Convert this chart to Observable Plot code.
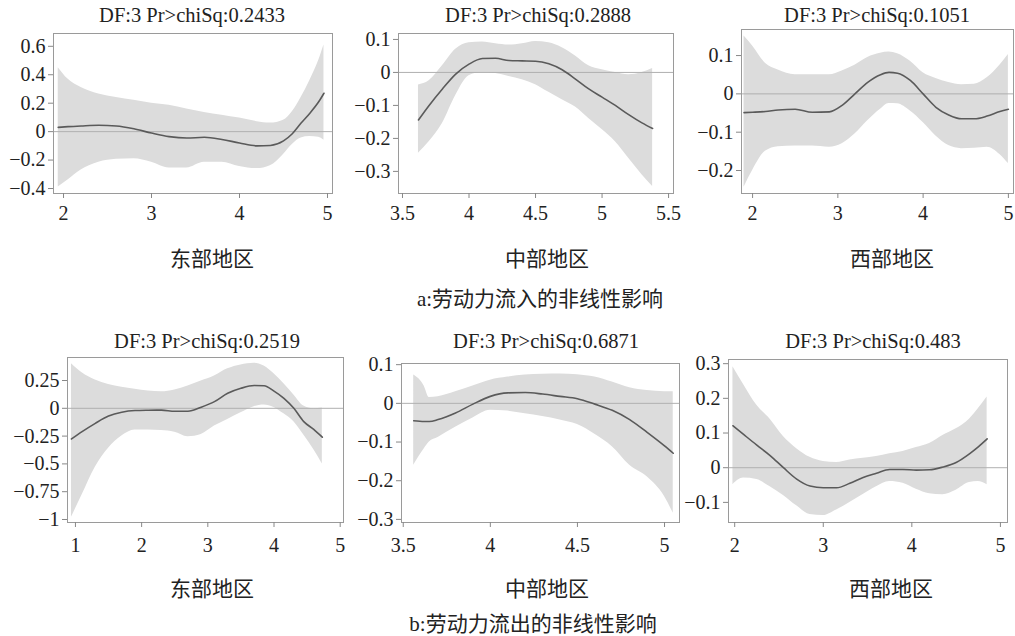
<!DOCTYPE html>
<html>
<head>
<meta charset="utf-8">
<script src="https://cdn.jsdelivr.net/npm/d3@7"></script>
<script src="https://cdn.jsdelivr.net/npm/@observablehq/plot@0.6"></script>
<style>
  body { margin: 0; background: #fff; }
  #wrap { position: relative; width: 1015px; height: 636px; overflow: hidden; background: #fff;
          font-family: 'Liberation Serif', 'Noto Sans CJK SC', serif; color: #222; }
  .abs { position: absolute; white-space: nowrap; transform: translate(-50%, -50%); }
  .ttl { font-size: 20.5px; }
  .reg { font-size: 21px; font-family: 'Noto Sans CJK SC', serif; }
  .sub { font-size: 21px; font-family: 'Liberation Serif', 'Noto Sans CJK SC', serif; }
</style>
</head>
<body>
<div id="wrap"></div>
<script>
// ---------- data ----------
const titles = ["DF:3 Pr>chiSq:0.2433", "DF:3 Pr>chiSq:0.2888", "DF:3 Pr>chiSq:0.1051",
                "DF:3 Pr>chiSq:0.2519", "DF:3 Pr>chiSq:0.6871", "DF:3 Pr>chiSq:0.483"];
const regions = ["东部地区", "中部地区", "西部地区", "东部地区", "中部地区", "西部地区"];
const subtitles = ["a:劳动力流入的非线性影响", "b:劳动力流出的非线性影响"];

// panel a1: 东部 inflow
const a1X  = [1.94, 2.05, 2.2, 2.4, 2.6, 2.8, 3.0, 3.2, 3.4, 3.6, 3.8, 4.0, 4.2, 4.35, 4.5, 4.6, 4.7, 4.8, 4.9, 4.96];
const a1Fit= [0.03, 0.035, 0.04, 0.045, 0.04, 0.02, -0.01, -0.035, -0.045, -0.04, -0.055, -0.08, -0.1, -0.097, -0.065, -0.015, 0.06, 0.13, 0.21, 0.27];
const a1Hi = [0.45, 0.37, 0.31, 0.265, 0.24, 0.22, 0.2, 0.185, 0.16, 0.135, 0.115, 0.095, 0.07, 0.06, 0.08, 0.14, 0.24, 0.36, 0.5, 0.61];
const a1Lo = [-0.39, -0.34, -0.27, -0.215, -0.195, -0.19, -0.215, -0.255, -0.255, -0.215, -0.215, -0.245, -0.26, -0.24, -0.16, -0.09, -0.045, -0.035, -0.04, -0.06];

// panel a2: 中部 inflow
const a2X  = [3.62, 3.7, 3.8, 3.9, 4.0, 4.1, 4.2, 4.3, 4.4, 4.5, 4.6, 4.7, 4.8, 4.9, 5.0, 5.1, 5.2, 5.3, 5.38];
const a2Fit= [-0.144, -0.1, -0.05, -0.005, 0.025, 0.042, 0.043, 0.036, 0.035, 0.034, 0.026, 0.008, -0.02, -0.05, -0.075, -0.1, -0.128, -0.153, -0.17];
const a2Hi = [-0.038, -0.025, 0.02, 0.07, 0.09, 0.092, 0.087, 0.083, 0.087, 0.094, 0.09, 0.075, 0.05, 0.02, 0.008, 0.0, -0.007, 0.0, 0.012];
const a2Lo = [-0.245, -0.21, -0.155, -0.07, -0.01, 0.0, -0.003, -0.012, -0.022, -0.037, -0.06, -0.083, -0.105, -0.14, -0.173, -0.21, -0.26, -0.31, -0.346];

// panel a3: 西部 inflow
const a3X  = [1.9, 2.0, 2.15, 2.3, 2.5, 2.7, 2.9, 3.05, 3.2, 3.35, 3.5, 3.6, 3.7, 3.85, 4.0, 4.15, 4.3, 4.45, 4.6, 4.75, 4.9, 5.0];
const a3Fit= [-0.049, -0.048, -0.046, -0.042, -0.04, -0.048, -0.047, -0.03, 0.0, 0.03, 0.05, 0.056, 0.054, 0.035, 0.0, -0.035, -0.055, -0.065, -0.065, -0.058, -0.046, -0.04];
const a3Hi = [0.151, 0.125, 0.08, 0.062, 0.05, 0.05, 0.05, 0.06, 0.075, 0.095, 0.106, 0.109, 0.105, 0.085, 0.055, 0.04, 0.03, 0.024, 0.025, 0.042, 0.075, 0.103];
const a3Lo = [-0.244, -0.2, -0.15, -0.138, -0.136, -0.136, -0.139, -0.13, -0.105, -0.07, -0.04, -0.025, -0.026, -0.045, -0.075, -0.11, -0.135, -0.143, -0.142, -0.139, -0.158, -0.182];

// panel b1: 东部 outflow
const b1X  = [0.94, 1.1, 1.3, 1.5, 1.7, 1.9, 2.1, 2.3, 2.5, 2.7, 2.9, 3.1, 3.3, 3.5, 3.7, 3.85, 4.0, 4.15, 4.3, 4.45, 4.6, 4.73];
const b1Fit= [-0.276, -0.21, -0.135, -0.07, -0.035, -0.02, -0.017, -0.016, -0.027, -0.027, 0.01, 0.06, 0.135, 0.18, 0.205, 0.203, 0.155, 0.09, 0.0, -0.12, -0.19, -0.26];
const b1Hi = [0.4, 0.32, 0.255, 0.215, 0.19, 0.172, 0.155, 0.148, 0.165, 0.2, 0.245, 0.29, 0.355, 0.39, 0.405, 0.38, 0.31, 0.22, 0.12, 0.02, -0.004, 0.003];
const b1Lo = [-0.98, -0.78, -0.53, -0.36, -0.25, -0.195, -0.195, -0.2, -0.215, -0.255, -0.235, -0.16, -0.1, -0.04, 0.015, 0.03, 0.008, -0.05, -0.12, -0.24, -0.37, -0.5];

// panel b2: 中部 outflow
const b2X  = [3.56, 3.62, 3.65, 3.7, 3.8, 3.9, 4.0, 4.1, 4.2, 4.3, 4.4, 4.5, 4.6, 4.7, 4.8, 4.9, 5.0, 5.05];
const b2Fit= [-0.045, -0.047, -0.047, -0.042, -0.025, -0.002, 0.018, 0.027, 0.028, 0.024, 0.018, 0.012, -0.002, -0.018, -0.042, -0.075, -0.11, -0.129];
const b2Hi = [0.073, 0.045, 0.015, 0.017, 0.03, 0.045, 0.06, 0.068, 0.073, 0.075, 0.076, 0.074, 0.068, 0.055, 0.04, 0.033, 0.03, 0.03];
const b2Lo = [-0.16, -0.118, -0.1, -0.088, -0.062, -0.038, -0.018, -0.02, -0.027, -0.034, -0.043, -0.055, -0.08, -0.112, -0.16, -0.19, -0.241, -0.284];

// panel b3: 西部 outflow
const b3X  = [1.98, 2.1, 2.25, 2.4, 2.55, 2.7, 2.85, 3.0, 3.15, 3.3, 3.45, 3.6, 3.75, 3.9, 4.05, 4.2, 4.35, 4.5, 4.65, 4.75, 4.85];
const b3Fit= [0.121, 0.096, 0.065, 0.035, 0.0, -0.033, -0.053, -0.058, -0.058, -0.045, -0.028, -0.016, -0.005, -0.005, -0.007, -0.006, 0.002, 0.015, 0.04, 0.06, 0.083];
const b3Hi = [0.291, 0.24, 0.18, 0.14, 0.09, 0.055, 0.03, 0.018, 0.015, 0.022, 0.027, 0.032, 0.04, 0.047, 0.058, 0.07, 0.093, 0.112, 0.14, 0.17, 0.204];
const b3Lo = [-0.049, -0.03, -0.034, -0.055, -0.08, -0.11, -0.135, -0.138, -0.122, -0.1, -0.077, -0.055, -0.04, -0.045, -0.062, -0.075, -0.078, -0.065, -0.043, -0.04, -0.049];

// tick labels
const xTicksA1 = [2, 3, 4, 5];
const yTicksA1 = [-0.4, -0.2, 0, 0.2, 0.4, 0.6];
const xTicksA2 = [3.5, 4, 4.5, 5, 5.5];
const yTicksA2 = [-0.3, -0.2, -0.1, 0, 0.1];
const xTicksA3 = [2, 3, 4, 5];
const yTicksA3 = [-0.2, -0.1, 0, 0.1];
const xTicksB1 = [1, 2, 3, 4, 5];
const yTicksB1 = [-1, -0.75, -0.5, -0.25, 0, 0.25];
const xTicksB2 = [3.5, 4, 4.5, 5];
const yTicksB2 = [-0.3, -0.2, -0.1, 0, 0.1];
const xTicksB3 = [2, 3, 4, 5];
const yTicksB3 = [-0.1, 0, 0.1, 0.2, 0.3];

// ---------- layout ----------
const series = [
  [a1X, a1Fit, a1Lo, a1Hi], [a2X, a2Fit, a2Lo, a2Hi], [a3X, a3Fit, a3Lo, a3Hi],
  [b1X, b1Fit, b1Lo, b1Hi], [b2X, b2Fit, b2Lo, b2Hi], [b3X, b3Fit, b3Lo, b3Hi]
];
const ticks = [
  [xTicksA1, yTicksA1], [xTicksA2, yTicksA2], [xTicksA3, yTicksA3],
  [xTicksB1, yTicksB1], [xTicksB2, yTicksB2], [xTicksB3, yTicksB3]
];
const layout = [
  {frame: [53, 33, 332, 193],  xd: [1.886, 5.057], yd: [-0.435, 0.69],  tp: 7,  title: [192, 15],  reg: [212, 257]},
  {frame: [398, 33, 673, 193], xd: [3.47, 5.537],  yd: [-0.367, 0.118], tp: 7,  title: [538, 15],  reg: [547, 257]},
  {frame: [741, 29, 1013, 193],xd: [1.87, 5.06],   yd: [-0.26, 0.168],  tp: 7,  title: [877, 15],  reg: [892, 257]},
  {frame: [67, 357, 343, 522], xd: [0.88, 5.05],   yd: [-1.027, 0.457], tp: 10, title: [207, 341], reg: [212, 587]},
  {frame: [401, 363, 679, 522],xd: [3.49, 5.086],  yd: [-0.308, 0.103], tp: 10, title: [546, 341], reg: [547, 587]},
  {frame: [728, 359, 1007, 522],xd: [1.93, 5.08],  yd: [-0.158, 0.312], tp: 10, title: [873, 341], reg: [891, 587]}
];
const subPos = [[540, 297], [533, 622]];

const fmt = d => d === 0 ? "0" : (d < 0 ? "\u2212" : "") + String(Math.abs(d));
const wrap = document.getElementById("wrap");

function addText(txt, cls, pos) {
  const d = document.createElement("div");
  d.className = "abs " + cls;
  d.textContent = txt;
  d.style.left = pos[0] + "px";
  d.style.top = pos[1] + "px";
  wrap.appendChild(d);
}

const mL = 62, mR = 10, mT = 4, mB = 42;
series.forEach((s, i) => {
  const [xs, fit, lo, hi] = s;
  const rows = xs.map((x, k) => ({x, fit: fit[k], lo: lo[k], hi: hi[k]}));
  const L = layout[i];
  const [fl, ft, fr, fb] = L.frame;
  const w = fr - fl + mL + mR, h = fb - ft + mT + mB;
  const chart = Plot.plot({
    width: w, height: h,
    marginLeft: mL, marginRight: mR, marginTop: mT, marginBottom: mB,
    style: {background: "transparent", overflow: "visible", fontSize: "20px",
            fontFamily: "'Liberation Serif', serif", color: "#222"},
    x: {domain: L.xd},
    y: {domain: L.yd},
    marks: [
      Plot.areaY(rows, {x: "x", y1: "lo", y2: "hi", fill: "#dcdcdc", curve: "monotone-x"}),
      Plot.ruleY([0], {stroke: "#b0b0b0", strokeWidth: 1}),
      Plot.lineY(rows, {x: "x", y: "fit", stroke: "#5a5a5a", strokeWidth: 1.6, curve: "monotone-x"}),
      Plot.frame({stroke: "#9a9a9a", strokeWidth: 1}),
      Plot.axisX({ticks: ticks[i][0], tickFormat: fmt, tickSize: 5, tickPadding: L.tp,
                  stroke: "#888", fill: "#222", label: null, fontSize: 20}),
      Plot.axisY({ticks: ticks[i][1], tickFormat: fmt, tickSize: 5, tickPadding: 3,
                  stroke: "#888", fill: "#222", label: null, fontSize: 20})
    ]
  });
  const box = document.createElement("div");
  box.style.position = "absolute";
  box.style.left = (fl - mL) + "px";
  box.style.top = (ft - mT) + "px";
  box.style.width = w + "px";
  box.style.height = h + "px";
  box.appendChild(chart);
  wrap.appendChild(box);
  addText(titles[i], "ttl", L.title);
  addText(regions[i], "reg", L.reg);
});
subtitles.forEach((t, i) => addText(t, "sub", subPos[i]));
</script>
</body>
</html>
